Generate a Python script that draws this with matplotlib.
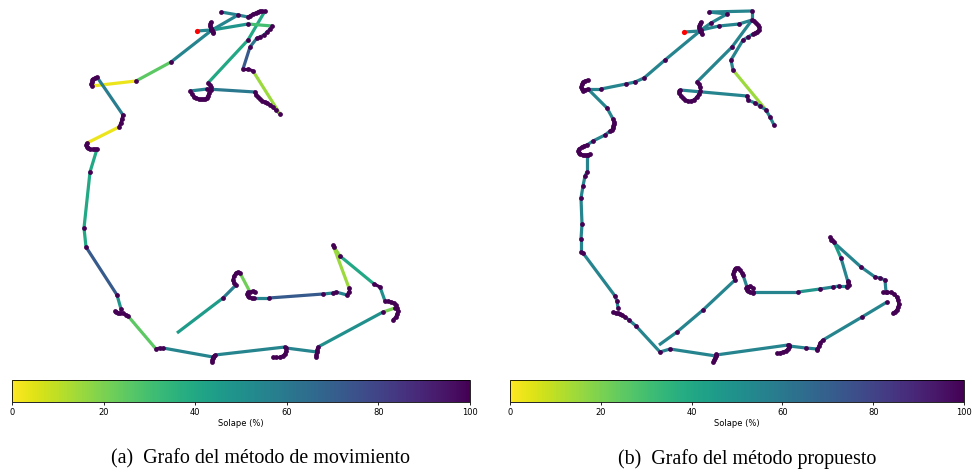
import matplotlib
matplotlib.use("Agg")
import matplotlib.pyplot as plt
from matplotlib.collections import LineCollection
from matplotlib import cm, colors
import numpy as np

W, H = 972, 473

# ---------------- data: panel (a) movement method ----------------
a_start = (197, 31)
a_chains = [
    [(197, 31), (211, 30)],
    [(211, 22), (210, 24), (210, 26), (211, 28), (212, 30), (213, 32), (213, 33)],
    [(212, 30), (238, 15)],
    [(221, 12), (238, 15), (248, 17)],
    [(248, 17), (250, 16), (253, 14), (256, 13), (258, 12), (260, 11), (262, 11), (265, 11)],
    [(265, 11), (248, 40), (208, 83)],
    [(208, 83), (210, 85), (211, 87), (211, 90), (209, 93), (208, 96), (207, 98), (205, 99),
     (203, 99), (201, 99), (199, 99), (196, 98), (194, 97), (192, 94), (190, 91)],
    [(190, 91), (207, 89)],
    [(207, 89), (255, 92)],
    [(255, 92), (256, 95), (258, 97), (260, 99), (262, 101), (265, 102), (267, 103),
     (270, 105), (273, 107), (276, 110)],
    [(276, 110), (280, 114)],
    [(280, 114), (253, 71)],
    [(253, 71), (248, 69), (243, 69)],
    [(243, 69), (250, 47)],
    [(250, 47), (257, 38), (260, 37), (264, 35), (267, 32), (270, 29), (272, 26)],
    [(272, 26), (248, 24)],
    [(248, 24), (212, 30)],
    [(212, 30), (171, 62)],
    [(171, 62), (136, 81)],
    [(136, 81), (92, 86)],
    [(92, 86), (91, 84), (92, 82), (92, 80), (93, 79), (95, 78), (97, 77)],
    [(97, 77), (123, 115)],
    [(123, 115), (122, 119), (121, 123), (119, 127)],
    [(119, 127), (87, 143)],
    [(87, 143), (86, 145), (87, 147), (88, 148), (90, 149), (93, 149), (95, 149), (97, 149)],
    [(97, 149), (90, 172), (84, 228), (86, 247)],
    [(86, 247), (117, 295)],
    [(117, 295), (121, 309)],
    [(115, 311), (116, 312), (118, 313), (120, 313), (123, 313), (126, 315), (128, 316)],
    [(128, 316), (156, 349)],
    [(156, 349), (160, 348), (163, 348)],
    [(163, 348), (213, 357)],
    [(212, 362), (212, 360), (213, 358), (214, 356), (215, 355)],
    [(215, 355), (285, 347)],
    [(273, 357), (276, 357), (280, 357), (283, 356), (285, 354), (286, 351), (286, 348)],
    [(286, 348), (317, 352)],
    [(316, 357), (316, 355), (317, 352), (317, 350), (318, 347)],
    [(318, 347), (383, 312)],
    [(383, 312), (395, 308)],
    [(385, 301), (388, 301), (391, 302), (394, 303), (396, 305), (397, 308), (398, 311),
     (397, 314), (396, 317), (393, 320)],
    [(385, 301), (380, 287)],
    [(380, 287), (374, 284)],
    [(374, 284), (340, 256)],
    [(340, 256), (334, 247)],
    [(333, 245), (349, 288)],
    [(349, 288), (349, 292), (347, 295)],
    [(347, 295), (336, 292), (333, 293), (323, 294)],
    [(323, 294), (269, 298)],
    [(269, 298), (254, 298)],
    [(254, 298), (252, 298), (249, 297), (248, 296), (247, 294), (248, 292), (250, 292),
     (253, 291), (255, 292)],
    [(250, 292), (240, 273)],
    [(240, 273), (238, 272), (236, 273), (234, 276), (233, 280), (234, 283), (236, 285)],
    [(236, 285), (223, 298)],
    [(223, 298), (177, 333)],
]
a_overlap = [55, 100, 55, 55, 100, 40, 100, 55, 60, 100, 55, 15, 100, 72, 62,
             30, 48, 55, 25, 3, 100, 58, 100, 3, 100, 40, 72, 48, 100, 25,
             100, 55, 100, 55, 100, 55, 100, 50, 20, 100, 50, 100, 40, 18, 15,
             100, 55, 72, 55, 100, 22, 100, 58, 45]
a_open_ends = [(177, 333)]

# ---------------- data: panel (b) proposed method ----------------
b_start = (684, 32)
b_chains = [
    [(684, 32), (700, 31)],
    [(701, 22), (700, 24), (699, 26), (699, 28), (700, 30), (701, 32), (702, 34)],
    [(701, 30), (711, 23), (727, 14), (709, 12), (752, 11), (752, 20)],
    [(701, 30), (719, 26), (739, 24), (752, 20)],
    [(752, 20), (754, 21), (756, 23), (758, 25), (759, 27), (759, 30), (757, 32), (755, 33), (753, 34)],
    [(753, 34), (748, 37), (743, 40), (731, 60), (733, 70)],
    [(733, 70), (766, 110)],
    [(766, 110), (770, 117), (774, 125)],
    [(752, 20), (732, 47), (697, 82)],
    [(697, 82), (699, 84), (700, 87), (700, 91), (699, 94), (697, 97), (694, 100), (691, 101),
     (688, 101), (685, 100), (683, 98), (681, 96), (679, 93), (679, 91), (680, 90)],
    [(680, 90), (747, 96), (748, 100), (755, 103), (760, 106), (766, 110)],
    [(700, 31), (665, 60), (644, 78), (635, 82), (626, 84), (601, 89), (588, 89)],
    [(588, 89), (585, 90), (583, 91), (582, 89), (581, 87), (582, 84), (583, 82), (585, 81), (588, 80)],
    [(588, 89), (607, 108), (613, 119)],
    [(613, 119), (614, 122), (614, 124), (613, 126), (613, 128), (612, 130), (610, 131)],
    [(610, 131), (605, 135), (593, 141), (587, 145)],
    [(587, 145), (584, 146), (582, 147), (579, 149), (578, 151), (579, 153), (580, 154),
     (583, 155), (585, 155), (588, 155), (590, 154)],
    [(587, 155), (587, 172), (585, 176), (583, 186), (581, 198), (582, 224), (581, 239),
     (581, 252), (583, 253)],
    [(583, 253), (615, 296), (617, 301), (618, 308)],
    [(613, 312), (616, 313), (618, 313), (620, 314), (622, 315), (625, 317)],
    [(625, 317), (629, 320), (636, 326), (660, 352), (670, 349), (716, 356)],
    [(713, 362), (714, 360), (715, 358), (716, 356), (716, 354)],
    [(716, 355), (788, 345)],
    [(777, 353), (780, 353), (783, 352), (786, 351), (788, 349), (789, 347), (789, 345)],
    [(789, 346), (806, 348), (817, 349)],
    [(817, 350), (819, 346), (820, 343), (823, 340)],
    [(823, 340), (862, 317), (887, 302)],
    [(883, 292), (887, 292), (891, 292), (894, 294), (897, 297), (898, 300), (899, 304),
     (898, 307), (897, 310), (895, 312), (893, 313)],
    [(886, 292), (885, 280), (880, 278), (875, 277), (861, 267), (831, 240)],
    [(830, 237), (832, 240), (834, 242)],
    [(834, 242), (841, 258)],
    [(841, 258), (848, 282)],
    [(848, 281), (849, 285), (847, 287)],
    [(847, 286), (839, 286), (833, 287), (820, 289)],
    [(820, 289), (798, 292)],
    [(798, 292), (753, 292)],
    [(753, 293), (750, 292), (748, 291), (747, 290), (746, 288), (748, 287), (750, 286), (753, 288)],
    [(747, 287), (743, 275)],
    [(742, 273), (740, 270), (738, 268), (736, 268), (735, 269), (734, 271), (733, 274),
     (734, 277), (735, 280)],
    [(735, 280), (703, 310), (677, 332), (659, 345)],
]
b_overlap = [55, 100, 55, 55, 100, 55, 15, 55, 55, 100, 55, 55, 100, 55, 100,
             55, 100, 55, 55, 100, 55, 100, 55, 100, 55, 100, 55, 100, 55, 100,
             45, 55, 100, 55, 48, 55, 100, 55, 100, 55]
b_open_ends = [(659, 345)]

cbar_ticks = [0, 20, 40, 60, 80, 100]
cbar_label = "Solape (%)"
captions = ["(a)  Grafo del método de movimiento", "(b)  Grafo del método propuesto"]

# ---------------- drawing ----------------
cmap = plt.get_cmap("viridis_r")
norm = colors.Normalize(vmin=0, vmax=100)
node_color = plt.get_cmap("viridis")(0.0)

fig = plt.figure(figsize=(W / 100, H / 100), dpi=100)


def px_axes(x0, y0, x1, y1):
    return fig.add_axes([x0 / W, 1 - y1 / H, (x1 - x0) / W, (y1 - y0) / H])


def draw_panel(ax, chains, overlap, start, open_ends):
    segs, vals = [], []
    for chain, ov in zip(chains, overlap):
        for p, q in zip(chain[:-1], chain[1:]):
            segs.append([p, q])
            vals.append(ov)
    lc = LineCollection(segs, cmap=cmap, norm=norm, linewidths=2.3, zorder=1,
                        capstyle="butt")
    lc.set_array(np.array(vals, dtype=float))
    ax.add_collection(lc)
    nodes = []
    for chain in chains:
        for p in chain:
            if p not in nodes and p not in open_ends and p != start:
                nodes.append(p)
    nx = [p[0] for p in nodes]
    ny = [p[1] for p in nodes]
    ax.scatter(nx, ny, s=12, color=node_color, zorder=2, linewidths=0)
    ax.scatter([start[0]], [start[1]], s=14, color="red", zorder=3, linewidths=0)
    ax.axis("off")


ax_a = px_axes(0, 0, 486, 372)
ax_a.set_xlim(0, 486)
ax_a.set_ylim(372, 0)
draw_panel(ax_a, a_chains, a_overlap, a_start, a_open_ends)

ax_b = px_axes(486, 0, 972, 372)
ax_b.set_xlim(486, 972)
ax_b.set_ylim(372, 0)
draw_panel(ax_b, b_chains, b_overlap, b_start, b_open_ends)

sm = cm.ScalarMappable(norm=norm, cmap=cmap)
for (x0, x1) in [(12, 470), (510, 964)]:
    cax = px_axes(x0, 380, x1, 402)
    cb = fig.colorbar(sm, cax=cax, orientation="horizontal", ticks=cbar_ticks)
    cb.ax.tick_params(labelsize=6, length=2.5, width=0.6, pad=1.5)
    cb.set_label(cbar_label, fontsize=6, labelpad=2)
    cb.outline.set_linewidth(0.6)

for xc, txt in zip([260, 747], captions):
    fig.text(xc / W, 1 - 459 / H, txt, ha="center", va="center",
             family="Liberation Serif", fontsize=14.4)

fig.savefig("out.png", dpi=100)
